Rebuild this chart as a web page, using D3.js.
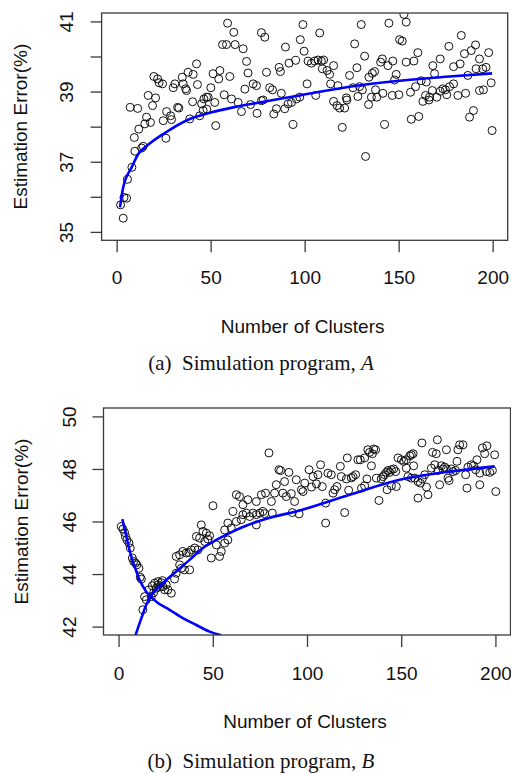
<!DOCTYPE html>
<html>
<head>
<meta charset="utf-8">
<script src="https://cdn.jsdelivr.net/npm/d3@7"></script>
<style>
  body { margin: 0; background: #fff; }
</style>
</head>
<body>
<svg id="chart" width="511" height="773"></svg>
<script>
// x limits and ticks shared by both panels
const clusterLim = [0, 200];
const clusterTicks = [0, 50, 100, 150, 200];

// panel (a)
const errorLimA = [35, 41];
const errorTicksA = [35, 36, 37, 38, 39, 40, 41];
const errorLabelsA = [35, 37, 39, 41];
const pointsA = [
  [2.1,35.77],[3.5,35.39],[3.9,35.98],[5.3,35.96],[5.8,36.5],[8.1,36.84],[9.7,37.3],[13.3,37.39],[14.1,37.44],
  [9.4,37.69],[11.8,37.93],[7.2,38.55],[11.2,38.52],[15,38.08],[15.9,38.27],[18,38.12],[16.8,38.89],[19.1,38.6],
  [20.7,38.82],[19.8,39.43],[21.8,39.36],[22.6,39.25],[24.4,39.22],[24.8,38.17],[26.6,38.43],[28.7,38.31],[29.2,38.2],
  [26.2,37.67],[30.1,39.11],[31,39.22],[32.4,38.55],[33.1,38.53],[34.9,39.41],[35.4,39.22],[36.7,39.08],[37.2,39.03],
  [38,39.55],[40.7,39.49],[38.9,38.22],[40.4,38.71],[42.5,39.79],[43,39.2],[44.2,38.31],[45.2,38.65],[46.4,38.79],
  [47.8,38.84],[48.7,38.84],[46,38.46],[48,38.5],[50.1,39.11],[51.3,39.51],[54.9,39.6],[54.3,39.36],[52.7,38.03],
  [52.2,38.69],[57.2,38.91],[56.3,40.34],[58.4,40.34],[59,40.95],[62.3,40.69],[63,40.34],[67.3,40.22],[60.2,39.43],
  [61.1,38.79],[64.6,38.69],[66.4,38.43],[69.1,39.86],[69.9,39.53],[68.2,39.07],[71.2,38.63],
  [77,40.68],[78.8,40.55],[99.1,40.91],[108,40.67],[89.8,40.27],[97.7,40.48],[99.7,40.15],[95.2,39.89],[91.7,39.81],
  [86.4,39.69],[87.1,39.57],[79.7,39.55],[72.6,39.22],[74.4,39.17],[81.4,39.11],[82.9,39.05],[87.6,38.95],[77,38.74],
  [77.9,38.76],[74.7,38.38],[83.6,38.36],[85,38.51],[89.4,38.51],[91.2,38.65],[93,38.69],[95.6,38.79],[97.4,38.84],
  [93.8,38.06],[101.3,39.22],[101.8,39.87],[103.6,39.81],[105.3,39.87],[107.1,39.9],[108.9,39.87],[110.1,39.9],
  [109.4,39.65],[111.9,39.6],[113.3,39.49],[115.4,39.74],[105.9,38.89],[113.8,39.22],[117.7,39.17],[115.4,38.72],
  [117.2,38.6],[118.6,38.53],[121.3,38.53],[122.5,38.76],[122.2,38.82],[120,37.98],[123.9,39.46],[127.8,39.68],
  [126.6,40.36],[125.7,39.11],[129.2,39.14],[130.7,39.05],[128.3,38.86],[130.1,40.91],[131.9,40.01],[132.4,37.15],
  [134,38.63],[134.2,39.41],[136,39.52],[137.2,39.57],[135.5,38.84],[137.7,39.05],[138.4,38.84],[141.6,38.95],
  [142.5,38.06],[140.4,39.84],[141.3,39.93],[144.3,39.74],[146.9,39.87],[148.7,39.49],[144.8,40.95],[146.6,38.89],
  [150.1,38.91],[147.8,39.33],[150.5,40.48],[151.9,40.44],[152.8,41.2],[154,40.98],[154,39.84],[158.1,39.87],
  [160.2,40.11],[156.3,38.98],[159,39.14],[162,39.31],[164.7,39.27],[156.7,38.21],[160.7,38.29],[162.9,38.72],
  [164.3,38.89],[166.4,38.84],[166.1,38.76],[167.9,39.03],[169.1,39.51],[168.2,39.74],[170.3,38.84],[172.1,39.01],
  [173.5,39.08],[174.9,39.05],[175.6,38.91],[177.1,39.14],[179.2,39.22],[172.1,39.93],[176.7,40.29],[179.2,39.71],
  [182.7,39.79],[183.3,40.6],[181.5,38.89],[185.6,38.95],[186.8,39.46],[185,40.08],[188.6,40.17],[190.9,40.33],
  [193,39.93],[191.2,39.65],[194.7,39.65],[196.5,39.69],[197.9,40.11],[187.7,38.27],[189.8,38.46],[193,39.03],
  [195.1,39.05],[199.2,39.25],[199.7,37.89]
];
const fitA = [
  [1.8,35.7],[3.5,36.27],[8,36.84],[11.5,37.22],[16,37.45],[24.8,37.79],[38.9,38.22],[50,38.4],[61.9,38.55],
  [76,38.69],[97.4,38.89],[123.9,39.14],[150.5,39.31],[177.1,39.43],[199.7,39.52]
];

// panel (b)
const errorLimB = [42, 50];
const errorTicksB = [42, 44, 46, 48, 50];
const errorLabelsB = [42, 44, 46, 48, 50];
const pointsB = [
  [1.4,45.81],[2.3,45.71],[3.2,45.58],[3.7,45.43],[4.4,45.3],[5.5,45.18],[6.2,44.99],[7.3,44.61],[8,44.48],[9,44.42],
  [9.7,44.35],[10.8,44.22],[11.5,43.88],[12.1,43.81],[13.8,43.14],[14.7,43.02],[12.9,42.64],
  [16.1,43.4],[17.9,43.55],[19.1,43.65],[20,43.46],[20.9,43.59],[21.8,43.52],[22.7,43.67],[23.5,43.52],[24.4,43.4],
  [25.3,43.59],[26.2,43.4],[28,43.27],[18.6,43.29],[17.4,43.14],[20.9,43.71],[23.2,43.75],
  [29.7,43.81],[30.6,44.03],[33.3,44.22],[35,44.16],[37.7,44.16],[32.4,44.35],
  [30.6,44.67],[32.4,44.73],[34.1,44.86],[35.9,44.8],[37.3,44.82],[38.6,44.92],[40.4,44.99],[42.1,44.92],[41.3,45.43],
  [43,45.37],[43.9,45.87],[44.8,45.62],[46.6,45.56],[48.3,45.46],[45.7,45.24],[47.4,45.33],[49.2,44.61],[51.9,45.11],
  [53.6,44.67],[54.5,44.86],[56.3,45.18],[58,45.3],[56.3,45.68],[58,45.94],[59.8,45.75],[60.7,46.38],[62.5,46],
  [65.1,46.07],[66,46.26],[67.8,46.32],[69.6,46.19],[71.3,46.32],[73.1,46.26],[74.9,46.32],[76.6,46.38],[62.5,47.02],
  [64.2,46.95],[66,46.64],[68.6,46.83],[73.1,46.76],[75.8,47.02],[50.1,46.6],[73.1,45.87],
  [77.5,46.3],[78,47.08],[79.8,48.61],[81.6,46.32],[81.1,46.76],[82.8,47.08],[83.7,47.4],[85.1,47.97],[86,47.94],
  [87.2,47.08],[88.1,47.52],[89,46.95],[90.4,47.87],[91.7,47.06],[93.4,46.76],[92.2,46.34],[95.8,46.29],
  [94.3,47.59],[97,47.21],[97.9,47.14],[98.8,47.46],[101.1,47.97],[102.4,47.31],[103.2,47.71],[105,47.43],[105.8,47.78],
  [107.2,48.16],[108.1,47.33],[109.9,46.7],[109.9,45.94],[111.1,47.84],[112.9,47.78],[113.8,47.08],[114.7,47.21],
  [115.9,47.33],[117.7,48.1],[118.2,47.71],[120,46.34],[120.9,47.62],[121.4,48.42],[122.1,47.19],[123.5,47.66],
  [124.4,47.71],[125.8,47.78],
  [127,48.35],[128.3,48.35],[130.6,48.42],[132.3,48.73],[133.2,48.63],[134.7,48.58],[135.4,48.76],[136.4,48.73],
  [134.2,48.12],[131.8,47.62],[128.9,47.27],[130.6,47.36],[136.8,47.65],[138.2,46.8],[139.4,47.62],[140.3,47.71],
  [141.2,47.78],[142.1,47.87],[143,47.94],[143.9,47.87],[144.8,47.97],[146,48],[147.1,47.9],[142.5,47.21],
  [144.8,47.36],[147.4,47.33],
  [148.3,48.42],[150.1,48.35],[151.3,48.29],[152.7,48.35],[154.5,48.5],[155.4,48.54],[156.3,48.58],[156.6,48.12],
  [152.7,48.03],[153.6,47.71],[155.4,47.65],[157.2,47.65],[158.9,47.52],[160.2,47.46],[161.2,47.62],[162.5,47.78],
  [163.4,47.31],[164.2,47.02],[158.9,46.89],[166,48.03],[167.8,48.16],[166.6,48.63],[168.6,48.58],[169.5,47.94],
  [170.4,47.4],[171.3,48.12],[172.2,48],[173.1,48.07],[174,48],[174.8,47.65],[175.4,47.56],[174,48.73],[169.2,49.11],
  [161,48.99],[176.6,48],[177.5,47.9],[178.9,47.94],[179.6,48.29],[180.1,48.73],[181,48.92],[182.8,48.92],
  [184.2,47.78],[184.9,47.27],[185.4,48.07],[187.2,48.16],[188.4,48.12],[189.5,47.97],[190.2,48.35],[191.7,47.4],
  [191.7,47.84],[193.1,48.8],[194.3,48.58],[195.5,48.88],[195.2,47.9],[197,47.87],[198.4,47.94],[199.6,48.54],
  [200.2,47.14]
];
const fitDownB = [
  [2,46.09],[4.1,45.43],[6.2,44.8],[8.5,44.29],[11.1,43.78],[14.7,43.33],[20,42.95],[27.1,42.64],[34.1,42.32],
  [41.3,42.06],[48.3,41.81],[54.5,41.67]
];
const fitUpB = [
  [9,41.67],[12.1,42.32],[14.7,42.83],[18.2,43.27],[23.5,43.65],[30.6,44.1],[37.7,44.54],[44.8,44.99],[51.9,45.3],
  [58.9,45.56],[66,45.79],[73.1,45.98],[79.8,46.13],[96.1,46.42],[122.6,47.02],[149.2,47.59],[175.7,47.9],[199.6,48.1]
];

const xTitle = 'Number of Clusters';
const yTitle = 'Estimation Error(%)';

const svg = d3.select('#chart');
const sans = '"Liberation Sans", Arial, Helvetica, sans-serif';
const serif = '"Liberation Serif", "Times New Roman", serif';
const ink = '#111';

// R style axis range: limits padded 4% on each side
const pad = lim => {
  const d = (lim[1] - lim[0]) * 0.04;
  return [lim[0] - d, lim[1] + d];
};

function panel(p) {
  const x = d3.scaleLinear().domain(pad(clusterLim)).range([p.left, p.right]);
  const y = d3.scaleLinear().domain(pad(p.yLim)).range([p.bottom, p.top]);

  svg.append('clipPath').attr('id', 'clip-' + p.id)
    .append('rect')
    .attr('x', p.left).attr('y', p.top)
    .attr('width', p.right - p.left).attr('height', p.bottom - p.top);

  const plot = svg.append('g').attr('clip-path', `url(#clip-${p.id})`);

  plot.append('g')
    .selectAll('circle')
    .data(p.points)
    .join('circle')
    .attr('cx', d => x(d[0]))
    .attr('cy', d => y(d[1]))
    .attr('r', 4)
    .attr('fill', 'none')
    .attr('stroke', '#111')
    .attr('stroke-width', 1);

  const line = d3.line()
    .x(d => x(d[0]))
    .y(d => y(d[1]))
    .curve(d3.curveMonotoneX);

  p.fits.forEach(f => {
    plot.append('path')
      .attr('d', line(f))
      .attr('fill', 'none')
      .attr('stroke', '#0000ff')
      .attr('stroke-width', 2.6);
  });

  svg.append('rect')
    .attr('x', p.left).attr('y', p.top)
    .attr('width', p.right - p.left).attr('height', p.bottom - p.top)
    .attr('fill', 'none')
    .attr('stroke', '#3a3a3a')
    .attr('stroke-width', 1.3);

  const xAxis = svg.append('g')
    .attr('transform', `translate(0,${p.bottom})`)
    .call(d3.axisBottom(x).tickValues(clusterTicks).tickSize(12).tickSizeOuter(0));
  xAxis.select('.domain').remove();
  xAxis.selectAll('line').attr('stroke', '#3a3a3a').attr('stroke-width', 1.3);
  xAxis.selectAll('text')
    .attr('y', p.xLabelY)
    .attr('dy', 0)
    .attr('fill', ink)
    .attr('font-family', sans)
    .attr('font-size', 19);

  const yAxis = svg.append('g')
    .attr('transform', `translate(${p.left},0)`)
    .call(d3.axisLeft(y).tickValues(p.yTicks).tickSize(11).tickSizeOuter(0)
      .tickFormat(d => p.yLabels.includes(d) ? d : ''));
  yAxis.select('.domain').remove();
  yAxis.selectAll('line').attr('stroke', '#3a3a3a').attr('stroke-width', 1.3);
  yAxis.selectAll('text')
    .attr('transform', 'rotate(-90)')
    .attr('x', 0)
    .attr('y', -p.yLabelX)
    .attr('dy', 0)
    .attr('text-anchor', 'middle')
    .attr('fill', ink)
    .attr('font-family', sans)
    .attr('font-size', 19);

  svg.append('text')
    .attr('x', (p.left + p.right) / 2 - 2)
    .attr('y', p.bottom + p.xTitleY)
    .attr('text-anchor', 'middle')
    .attr('fill', ink)
    .attr('font-family', sans)
    .attr('font-size', 19)
    .text(xTitle);

  svg.append('text')
    .attr('transform', `translate(${p.yTitleX},${(p.top + p.bottom) / 2}) rotate(-90)`)
    .attr('text-anchor', 'middle')
    .attr('fill', ink)
    .attr('font-family', sans)
    .attr('font-size', 19)
    .text(yTitle);

  const cap = svg.append('text')
    .attr('x', 261)
    .attr('y', p.bottom + p.captionY)
    .attr('text-anchor', 'middle')
    .attr('fill', '#111')
    .attr('font-family', serif)
    .attr('font-size', 21);
  cap.append('tspan').text(`(${p.id})\u2002Simulation program, `);
  cap.append('tspan').attr('font-style', 'italic').text(p.letter);
}

panel({
  id: 'a', letter: 'A',
  left: 101.6, right: 507.7, top: 13, bottom: 240.3,
  yLim: errorLimA, yTicks: errorTicksA, yLabels: errorLabelsA,
  points: pointsA, fits: [fitA],
  xLabelY: 43.7, xTitleY: 92.4, captionY: 129.7, yLabelX: 28.6, yTitleX: 27
});

panel({
  id: 'b', letter: 'B',
  left: 103.5, right: 510.5, top: 408, bottom: 635,
  yLim: errorLimB, yTicks: errorTicksB, yLabels: errorLabelsB,
  points: pointsB, fits: [fitDownB, fitUpB],
  xLabelY: 45, xTitleY: 93, captionY: 133, yLabelX: 27.5, yTitleX: 28
});
</script>
</body>
</html>
